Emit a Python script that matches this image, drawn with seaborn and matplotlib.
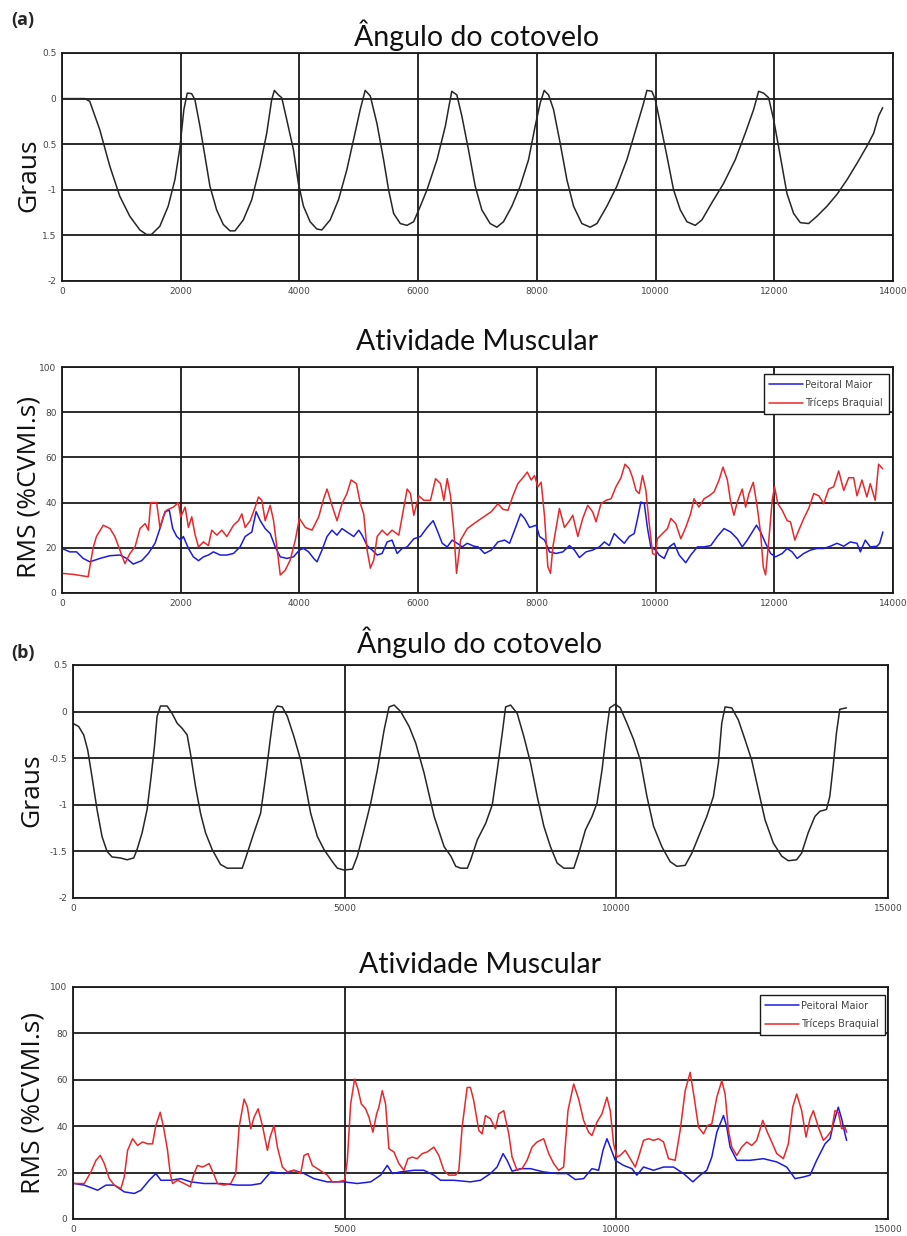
import matplotlib
matplotlib.use("Agg")
import matplotlib.pyplot as plt
import seaborn as sns
import pandas as pd
import numpy as np

# ---- (a) elbow angle ----
ang_a_x = [0, 200, 383, 467, 636, 805, 973, 1142, 1311, 1423, 1508, 1648, 1789, 1902, 1986, 2053,
           2110, 2183, 2239, 2323, 2408, 2492, 2605, 2717, 2830, 2914, 3055, 3196, 3336, 3449, 3533,
           3578, 3646, 3702, 3786, 3899, 3983, 4068, 4180, 4293, 4377, 4518, 4658, 4799, 4912, 5024,
           5108, 5193, 5305, 5418, 5502, 5587, 5699, 5812, 5924, 6037, 6149, 6318, 6459, 6520, 6567,
           6652, 6736, 6848, 6961, 7073, 7213, 7326, 7438, 7579, 7719, 7860, 7972, 8056, 8124, 8197,
           8281, 8393, 8506, 8618, 8758, 8899, 9012, 9180, 9348, 9517, 9685, 9798, 9854, 9938, 9994,
           10079, 10191, 10303, 10416, 10528, 10669, 10781, 10950, 11146, 11343, 11511, 11652, 11736,
           11820, 11904, 11989, 12101, 12213, 12326, 12438, 12578, 12719, 12888, 13056, 13225, 13393,
           13562, 13674, 13758, 13826]
ang_a_y = [0.0, 0.0, 0.0, -0.03, -0.34, -0.74, -1.07, -1.29, -1.44, -1.49, -1.49, -1.40, -1.18, -0.89,
           -0.54, -0.12, 0.06, 0.055, -0.01, -0.30, -0.63, -0.96, -1.22, -1.38, -1.45, -1.45, -1.33,
           -1.11, -0.74, -0.38, -0.01, 0.09, 0.04, 0.01, -0.23, -0.56, -0.93, -1.18, -1.35, -1.43,
           -1.44, -1.33, -1.11, -0.78, -0.45, -0.12, 0.09, 0.03, -0.27, -0.67, -1.0, -1.26, -1.37,
           -1.39, -1.35, -1.18, -1.0, -0.67, -0.30, -0.08, 0.08, 0.04, -0.19, -0.56, -0.96, -1.22,
           -1.37, -1.41, -1.35, -1.18, -0.96, -0.67, -0.30, -0.05, 0.09, 0.04, -0.12, -0.49, -0.89,
           -1.18, -1.37, -1.41, -1.37, -1.18, -0.96, -0.67, -0.30, -0.05, 0.09, 0.08, -0.01, -0.27,
           -0.63, -1.0, -1.22, -1.35, -1.39, -1.33, -1.14, -0.93, -0.67, -0.38, -0.12, 0.08, 0.06,
           0.01, -0.23, -0.63, -1.04, -1.26, -1.36, -1.37, -1.29, -1.18, -1.05, -0.89, -0.71, -0.52,
           -0.38, -0.19, -0.10]

# ---- (a) muscle activity ----
pm_a_x = [0, 132, 245, 357, 470, 640, 807, 976, 1090, 1200, 1342, 1455, 1567, 1650, 1735, 1808,
          1865, 1933, 2000, 2045, 2130, 2213, 2300, 2383, 2467, 2552, 2664, 2777, 2890, 3000, 3086,
          3198, 3270, 3340, 3423, 3508, 3592, 3677, 3790, 3900, 4000, 4070, 4155, 4240, 4296, 4380,
          4465, 4548, 4633, 4717, 4800, 4915, 5000, 5055, 5140, 5225, 5310, 5393, 5478, 5560, 5646,
          5730, 5815, 5927, 6040, 6152, 6253, 6320, 6405, 6490, 6573, 6657, 6742, 6827, 6940, 7009,
          7121, 7233, 7345, 7457, 7540, 7625, 7726, 7793, 7877, 7990, 8045, 8130, 8213, 8325, 8437,
          8550, 8633, 8717, 8829, 8940, 9053, 9137, 9220, 9304, 9390, 9473, 9557, 9640, 9697, 9753,
          9810, 9865, 9920, 10000, 10060, 10145, 10230, 10312, 10397, 10508, 10593, 10705, 10817,
          10930, 11040, 11153, 11265, 11377, 11460, 11545, 11630, 11700, 11770, 11853, 11938, 12020,
          12134, 12217, 12300, 12385, 12497, 12610, 12720, 12833, 12945, 13057, 13170, 13280, 13393,
          13450, 13533, 13617, 13730, 13775, 13830]
pm_a_y = [19.7, 18.2, 18.2, 15.3, 13.8, 15.3, 16.5, 16.8, 15.3, 12.8, 14.3, 17.5, 22.0, 28.5, 36.0,
          36.6, 28.5, 25.0, 23.4, 25.0, 19.7, 16.0, 14.3, 16.0, 16.8, 18.2, 16.8, 16.8, 17.5, 20.4,
          25.0, 27.0, 36.0, 32.0, 28.5, 26.3, 20.4, 16.0, 15.3, 16.0, 19.0, 19.7, 18.2, 15.3, 13.8,
          19.0, 25.0, 27.8, 25.6, 28.5, 27.0, 25.0, 27.8, 25.6, 21.0, 19.0, 16.8, 17.5, 22.6, 23.4,
          17.5, 19.7, 20.4, 24.0, 25.0, 29.0, 32.0, 27.8, 22.0, 20.4, 23.4, 22.0, 20.4, 22.0, 20.7,
          20.4, 17.5, 19.0, 22.6, 23.4, 22.0, 27.8, 35.0, 33.0, 29.0, 30.0, 25.0, 23.4, 18.2, 17.5,
          18.2, 21.0, 19.0, 15.7, 18.2, 19.0, 20.4, 22.6, 21.0, 26.3, 24.0, 22.0, 25.0, 26.3, 33.0,
          40.3, 39.5, 28.5, 20.4, 19.0, 16.8, 15.3, 20.4, 22.0, 16.8, 13.4, 16.8, 20.4, 20.4, 21.0,
          25.0, 28.5, 27.0, 24.0, 20.4, 23.4, 27.0, 30.0, 27.0, 22.0, 17.5, 16.0, 17.5, 19.7, 18.2,
          15.3, 17.5, 19.0, 19.7, 19.7, 20.7, 22.0, 20.7, 22.6, 22.0, 18.2, 23.4, 20.4, 20.7, 22.0,
          27.0]
tb_a_x = [0, 200, 440, 525, 580, 695, 810, 890, 975, 1060, 1145, 1230, 1314, 1400, 1455, 1494,
          1595, 1650, 1705, 1760, 1875, 1960, 2000, 2075, 2130, 2186, 2240, 2300, 2383, 2467, 2523,
          2608, 2692, 2777, 2890, 2973, 3030, 3086, 3170, 3255, 3310, 3367, 3423, 3508, 3564, 3620,
          3677, 3760, 3845, 3930, 4000, 4100, 4212, 4325, 4408, 4465, 4548, 4633, 4717, 4800, 4870,
          4960, 5027, 5083, 5140, 5195, 5252, 5310, 5393, 5478, 5560, 5674, 5760, 5815, 5870, 5927,
          6011, 6095, 6208, 6293, 6377, 6433, 6490, 6545, 6600, 6647, 6715, 6827, 6940, 7065, 7233,
          7345, 7430, 7513, 7597, 7680, 7765, 7838, 7905, 7960, 8017, 8073, 8130, 8185, 8230, 8270,
          8325, 8380, 8465, 8550, 8605, 8690, 8773, 8857, 8940, 8997, 9080, 9165, 9250, 9333, 9417,
          9485, 9557, 9613, 9670, 9725, 9780, 9837, 9893, 9950, 10000, 10030, 10117, 10200, 10257,
          10340, 10425, 10508, 10590, 10648, 10730, 10817, 10900, 10985, 11070, 11136, 11210, 11265,
          11320, 11377, 11460, 11517, 11573, 11646, 11713, 11770, 11814, 11853, 11898, 11965, 12004,
          12060, 12134, 12217, 12273, 12346, 12413, 12497, 12580, 12665, 12750, 12833, 12917, 13000,
          13085, 13170, 13253, 13337, 13393, 13477, 13560, 13617, 13700, 13757, 13825]
tb_a_y = [8.7, 8.2, 7.2, 20.0, 25.0, 30.0, 28.5, 25.0, 19.0, 13.0, 17.5, 20.4, 28.5, 30.7, 27.8, 40.0,
          40.0, 29.0, 33.7, 36.6, 38.0, 40.0, 33.7, 38.0, 29.0, 33.7, 26.0, 20.4, 22.6, 21.0, 27.8,
          25.6, 27.8, 25.0, 30.0, 32.0, 35.0, 29.0, 32.0, 38.0, 42.5, 41.0, 32.0, 38.8, 32.0, 20.4,
          8.0, 10.0, 14.6, 23.4, 33.0, 29.0, 27.8, 33.7, 41.7, 46.0, 38.8, 32.0, 39.5, 44.0, 50.0,
          48.4, 39.5, 35.0, 19.0, 11.0, 14.6, 25.0, 27.8, 25.6, 27.8, 25.6, 38.0, 46.0, 44.0, 34.4,
          43.0, 41.0, 41.0, 50.6, 48.4, 41.0, 50.6, 43.0, 27.8, 8.7, 23.4, 28.5, 30.7, 33.0, 36.0,
          39.5, 37.0, 36.6, 43.0, 48.4, 51.0, 53.5, 50.0, 52.0, 47.0, 49.0, 33.7, 11.6, 8.7, 20.4,
          29.0, 37.4, 29.0, 32.0, 34.4, 25.0, 33.0, 38.8, 35.9, 31.5, 39.5, 41.0, 41.7, 47.0, 51.0,
          57.0, 55.0, 51.0, 45.4, 44.0, 52.0, 45.4, 30.7, 17.5, 16.8, 24.0, 26.3, 28.5, 33.0, 30.7,
          24.0, 29.0, 35.0, 41.7, 38.0, 41.7, 43.0, 44.7, 50.0, 55.7, 50.0, 40.3, 34.4, 40.3, 46.0,
          38.0, 44.0, 49.0, 38.0, 26.3, 11.6, 8.0, 20.4, 41.0, 47.0, 39.5, 36.6, 32.0, 31.5, 23.4,
          27.8, 33.0, 37.4, 44.0, 43.0, 39.5, 46.0, 47.0, 54.0, 45.4, 51.0, 51.0, 43.0, 50.0, 42.5,
          48.4, 41.0, 57.0, 55.0]

# ---- (b) elbow angle ----
ang_b_x = [12, 104, 197, 270, 350, 442, 534, 627, 719, 872, 995, 1118, 1179, 1272, 1364, 1437, 1499,
           1548, 1610, 1732, 1824, 1917, 2009, 2101, 2162, 2254, 2347, 2439, 2562, 2715, 2838, 2961,
           3115, 3207, 3330, 3453, 3545, 3637, 3698, 3759, 3852, 3944, 4067, 4190, 4282, 4374, 4497,
           4620, 4773, 4865, 4988, 5142, 5234, 5357, 5480, 5602, 5725, 5817, 5910, 6032, 6186, 6309,
           6462, 6647, 6831, 6954, 7044, 7136, 7258, 7319, 7442, 7595, 7717, 7809, 7901, 7962, 8054,
           8176, 8299, 8421, 8544, 8666, 8788, 8911, 9033, 9217, 9308, 9431, 9553, 9645, 9737, 9816,
           9878, 9982, 10073, 10196, 10318, 10441, 10563, 10685, 10838, 10991, 11114, 11267, 11389,
           11542, 11665, 11787, 11879, 11940, 12001, 12124, 12246, 12368, 12491, 12613, 12736, 12889,
           13042, 13164, 13317, 13409, 13531, 13654, 13746, 13868, 13929, 13990, 14051, 14113, 14235]
ang_b_y = [-0.13, -0.16, -0.25, -0.41, -0.70, -1.05, -1.34, -1.50, -1.56, -1.57, -1.59, -1.57, -1.48,
           -1.30, -1.05, -0.70, -0.375, -0.05, 0.06, 0.06, -0.02, -0.125, -0.18, -0.25, -0.45, -0.80,
           -1.09, -1.30, -1.48, -1.64, -1.68, -1.68, -1.68, -1.52, -1.30, -1.09, -0.70, -0.27, 0.0,
           0.06, 0.05, -0.05, -0.27, -0.52, -0.80, -1.09, -1.34, -1.48, -1.61, -1.68, -1.70, -1.69,
           -1.55, -1.27, -0.98, -0.625, -0.20, 0.05, 0.07, 0.0, -0.16, -0.34, -0.66, -1.125, -1.45,
           -1.55, -1.66, -1.68, -1.68, -1.59, -1.375, -1.20, -1.0, -0.625, -0.23, 0.05, 0.07, -0.02,
           -0.27, -0.55, -0.91, -1.23, -1.45, -1.625, -1.68, -1.68, -1.52, -1.27, -1.125, -0.98,
           -0.625, -0.23, 0.04, 0.08, 0.04, -0.125, -0.30, -0.52, -0.91, -1.23, -1.45, -1.61, -1.66,
           -1.65, -1.52, -1.30, -1.125, -0.91, -0.55, -0.125, 0.05, 0.04, -0.09, -0.30, -0.52, -0.84,
           -1.16, -1.41, -1.55, -1.60, -1.59, -1.52, -1.30, -1.125, -1.07, -1.05, -0.91, -0.59, -0.23,
           0.025, 0.04]

# ---- (b) muscle activity ----
pm_b_x = [25, 208, 453, 607, 760, 943, 1127, 1250, 1403, 1525, 1617, 1801, 1985, 2169, 2414, 2720,
          3027, 3272, 3456, 3640, 3885, 4068, 4252, 4436, 4681, 4987, 5232, 5478, 5662, 5784, 5876,
          6029, 6274, 6458, 6642, 6764, 7009, 7315, 7499, 7683, 7805, 7915, 7989, 8081, 8234, 8418,
          8663, 8908, 9092, 9245, 9398, 9551, 9674, 9754, 9827, 9888, 9980, 10133, 10287, 10378,
          10501, 10685, 10869, 11052, 11236, 11408, 11543, 11665, 11757, 11849, 11972, 12033, 12094,
          12217, 12462, 12707, 12952, 13135, 13289, 13442, 13565, 13687, 13841, 13933, 13994, 14085,
          14147, 14208, 14238]
pm_b_y = [15.3, 14.6, 12.4, 14.6, 14.6, 11.7, 11.0, 12.4, 16.7, 19.6, 16.7, 16.7, 17.4, 16.0, 15.3,
          15.3, 14.6, 14.6, 15.3, 20.3, 19.6, 21.0, 19.6, 17.4, 16.0, 16.0, 15.3, 16.0, 18.9, 23.1,
          19.6, 20.3, 21.0, 21.0, 18.9, 16.7, 16.7, 16.0, 16.7, 19.6, 22.4, 28.2, 25.3, 20.6, 21.7,
          21.7, 20.3, 19.6, 19.6, 17.0, 17.4, 21.7, 21.0, 29.6, 34.6, 31.0, 25.3, 23.1, 21.7, 18.9,
          22.4, 21.0, 22.4, 22.4, 19.6, 16.0, 18.9, 21.0, 26.7, 37.4, 44.6, 39.6, 31.0, 25.3, 25.3,
          26.0, 24.6, 22.4, 17.4, 18.1, 18.9, 25.3, 32.4, 34.6, 41.0, 48.2, 43.2, 36.7, 33.9]
tb_b_x = [25, 208, 330, 423, 502, 576, 668, 760, 882, 943, 1005, 1097, 1188, 1280, 1372, 1464, 1525,
          1605, 1666, 1740, 1789, 1832, 1924, 2046, 2157, 2230, 2291, 2383, 2444, 2506, 2598, 2659,
          2782, 2904, 2996, 3057, 3149, 3210, 3272, 3333, 3407, 3486, 3578, 3627, 3700, 3762, 3854,
          3946, 4068, 4191, 4252, 4326, 4405, 4497, 4589, 4681, 4773, 4865, 5000, 5049, 5110, 5183,
          5245, 5306, 5386, 5447, 5520, 5588, 5630, 5692, 5753, 5814, 5906, 5998, 6090, 6164, 6243,
          6335, 6427, 6519, 6642, 6733, 6825, 6917, 7040, 7101, 7162, 7254, 7315, 7376, 7468, 7530,
          7591, 7683, 7775, 7836, 7928, 8020, 8081, 8173, 8265, 8357, 8449, 8540, 8663, 8755, 8847,
          8939, 9030, 9110, 9215, 9306, 9398, 9490, 9551, 9643, 9735, 9827, 9888, 9950, 10011, 10072,
          10164, 10256, 10348, 10409, 10501, 10593, 10685, 10777, 10869, 10960, 11083, 11175, 11267,
          11359, 11432, 11512, 11604, 11677, 11757, 11849, 11941, 12002, 12063, 12125, 12217, 12308,
          12400, 12492, 12584, 12695, 12780, 12860, 12952, 13074, 13166, 13246, 13320, 13411, 13491,
          13565, 13626, 13718, 13810, 13871, 13963, 14024, 14085, 14147, 14208, 14238]
tb_b_y = [15.3, 15.3, 20.3, 25.3, 27.4, 23.9, 17.4, 14.6, 13.1, 18.1, 29.6, 34.6, 31.7, 33.2, 32.4,
          32.4, 40.3, 46.0, 39.6, 29.6, 19.6, 15.3, 16.7, 15.3, 13.9, 19.6, 23.1, 22.4, 23.1, 23.9,
          18.9, 15.3, 14.6, 15.3, 19.6, 39.6, 51.7, 48.2, 38.9, 43.9, 47.5, 40.3, 29.6, 35.3, 40.3,
          31.0, 22.4, 20.3, 21.0, 19.6, 27.4, 28.2, 23.1, 21.7, 20.3, 18.9, 16.0, 16.0, 16.7, 25.3,
          49.6, 60.3, 56.0, 49.6, 47.5, 43.9, 37.4, 45.3, 48.2, 55.3, 49.6, 30.3, 28.9, 23.9, 21.0,
          26.0, 26.7, 26.0, 28.2, 28.9, 31.0, 27.4, 21.0, 18.9, 18.9, 21.0, 39.6, 56.7, 56.7, 51.0,
          38.2, 36.7, 44.6, 43.2, 38.9, 45.3, 46.7, 36.7, 26.7, 21.0, 21.7, 25.3, 31.0, 33.2, 34.6,
          28.2, 23.9, 21.0, 22.4, 46.7, 58.2, 51.7, 42.5, 37.4, 36.0, 41.7, 45.3, 52.5, 46.7, 32.4,
          26.7, 27.4, 29.6, 26.0, 22.4, 26.7, 33.9, 34.6, 33.9, 34.6, 33.2, 26.0, 25.3, 38.2, 55.3,
          63.2, 52.5, 39.6, 36.7, 40.3, 41.0, 52.5, 59.6, 53.9, 38.2, 31.0, 27.4, 31.0, 33.2, 31.7,
          33.9, 42.5, 37.4, 33.2, 28.2, 26.0, 32.4, 48.2, 53.9, 46.7, 35.3, 43.2, 46.7, 39.6, 33.9,
          35.3, 38.2, 46.7, 46.0, 38.9, 39.6, 37.4]

ang_ticks = [-2, -1.5, -1, -0.5, 0, 0.5]
ang_labels_a = ["-2", "1.5", "-1", "0.5", "0", "0.5"]
ang_labels_b = ["-2", "-1.5", "-1", "-0.5", "0", "0.5"]
rms_ticks = [0, 20, 40, 60, 80, 100]
xticks_a = [0, 2000, 4000, 6000, 8000, 10000, 12000, 14000]
xticks_b = [0, 5000, 10000, 15000]
series_names = ["Peitoral Maior", "Tríceps Braquial"]

sns.set_style("white")
plt.rcParams["font.family"] = ["DejaVu Sans"]

W, H = 907, 1236
fig = plt.figure(figsize=(W / 100, H / 100), dpi=100)


def box(l, t, r, b):
    return [l / W, 1 - b / H, (r - l) / W, (b - t) / H]


def style(ax, xt, xmax, yt, ylabels, ylim):
    ax.set_xlim(0, xmax)
    ax.set_ylim(*ylim)
    ax.set_xticks(xt)
    ax.set_xticklabels([str(v) for v in xt])
    ax.set_yticks(yt)
    ax.set_yticklabels(ylabels)
    ax.grid(True, color="#1a1a1a", linewidth=1.3)
    ax.set_axisbelow(True)
    ax.tick_params(direction="in", length=3, width=0.6, top=True, right=True,
                   labelsize=6.5, labelcolor="#444444", pad=4)
    for s in ax.spines.values():
        s.set_visible(True)
        s.set_color("#1a1a1a")
        s.set_linewidth(1.3)
    ax.set_xlabel("")
    ax.set_ylabel("")


def emg(ax, px, py, tx, ty):
    d1 = pd.DataFrame({"x": px, "y": py})
    d2 = pd.DataFrame({"x": tx, "y": ty})
    sns.lineplot(data=d1, x="x", y="y", ax=ax, color="#1c1ce0", linewidth=1.1,
                 label=series_names[0], estimator=None, sort=False)
    sns.lineplot(data=d2, x="x", y="y", ax=ax, color="#e8282a", linewidth=1.1,
                 label=series_names[1], estimator=None, sort=False)


title_font = dict(family=["Lato", "DejaVu Sans"], fontsize=20.5, color="#111111")
lab_font = dict(family=["Open Sans", "DejaVu Sans"], fontsize=19, color="#111111")

# panel 1
ax1 = fig.add_axes(box(62, 53, 893, 281))
sns.lineplot(data=pd.DataFrame({"x": ang_a_x, "y": ang_a_y}), x="x", y="y", ax=ax1,
             color="#262626", linewidth=1.1, estimator=None, sort=False)
style(ax1, xticks_a, 14000, ang_ticks, ang_labels_a, (-2, 0.5))

# panel 2
ax2 = fig.add_axes(box(62, 367, 893, 593))
emg(ax2, pm_a_x, pm_a_y, tb_a_x, tb_a_y)
style(ax2, xticks_a, 14000, rms_ticks, [str(v) for v in rms_ticks], (0, 100))

# panel 3
ax3 = fig.add_axes(box(73, 665, 888, 898))
sns.lineplot(data=pd.DataFrame({"x": ang_b_x, "y": ang_b_y}), x="x", y="y", ax=ax3,
             color="#262626", linewidth=1.1, estimator=None, sort=False)
style(ax3, xticks_b, 15000, ang_ticks, ang_labels_b, (-2, 0.5))

# panel 4
ax4 = fig.add_axes(box(73, 987, 888, 1219))
emg(ax4, pm_b_x, pm_b_y, tb_b_x, tb_b_y)
style(ax4, xticks_b, 15000, rms_ticks, [str(v) for v in rms_ticks], (0, 100))

for ax, (dx, dy) in [(ax2, (4, 7)), (ax4, (3, 8))]:
    bb = ax.get_position()
    wpx, hpx = bb.width * W, bb.height * H
    leg = ax.legend(loc="upper right", bbox_to_anchor=(1 - dx / wpx, 1 - dy / hpx),
                    borderaxespad=0, fontsize=7, handlelength=3.4, frameon=True,
                    fancybox=False, framealpha=1, edgecolor="#1a1a1a",
                    borderpad=0.6, labelspacing=0.8, handletextpad=0.3)
    leg.get_frame().set_linewidth(1.0)
    for t in leg.get_texts():
        t.set_color("#444444")

# titles
fig.text(477 / W, 1 - 35 / H, "Ângulo do cotovelo", ha="center", va="center", **title_font)
fig.text(477 / W, 1 - 342 / H, "Atividade Muscular", ha="center", va="center", **title_font)
fig.text(480 / W, 1 - 642 / H, "Ângulo do cotovelo", ha="center", va="center", **title_font)
fig.text(480 / W, 1 - 965 / H, "Atividade Muscular", ha="center", va="center", **title_font)

# y labels
fig.text(29 / W, 1 - 175 / H, "Graus", rotation=90, ha="center", va="center", **lab_font)
fig.text(29 / W, 1 - 487 / H, "RMS (%CVMI.s)", rotation=90, ha="center", va="center", **lab_font)
fig.text(32 / W, 1 - 790 / H, "Graus", rotation=90, ha="center", va="center", **lab_font)
fig.text(33 / W, 1 - 1103 / H, "RMS (%CVMI.s)", rotation=90, ha="center", va="center", **lab_font)

# panel letters
fig.text(11 / W, 1 - 20 / H, "(a)", ha="left", va="center", fontsize=13, fontweight="bold",
         family=["Open Sans", "DejaVu Sans"])
fig.text(11 / W, 1 - 653 / H, "(b)", ha="left", va="center", fontsize=13, fontweight="bold",
         family=["Open Sans", "DejaVu Sans"])

fig.savefig("out.png", dpi=100)
